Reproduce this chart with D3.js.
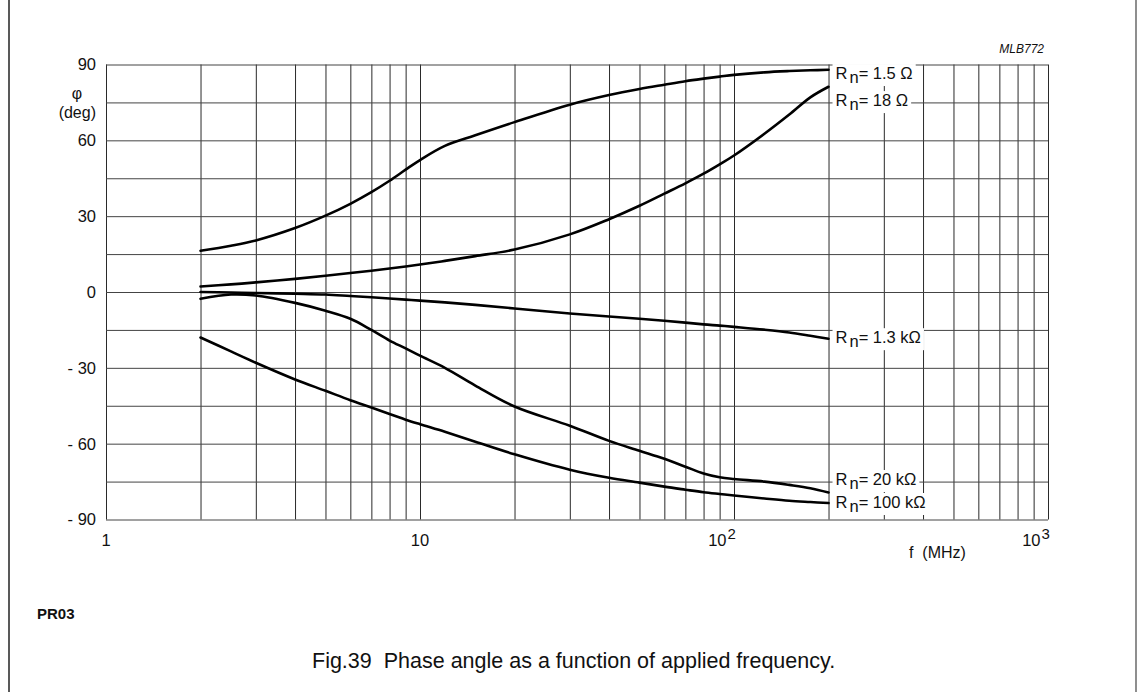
<!DOCTYPE html>
<html>
<head>
<meta charset="utf-8">
<script src="https://cdn.jsdelivr.net/npm/d3@7"></script>
<style>
  body { margin: 0; background: #fff; }
  text { font-family: "Liberation Sans", Arial, sans-serif; fill: #111; }
</style>
</head>
<body>
<script>
const width = 1138;
const height = 692;

// data
const freqs = [2, 2.5, 3, 4, 5, 6, 7, 8, 9, 10, 12, 15, 20, 30, 40, 50, 60, 70, 80, 90, 100, 125, 150, 175, 200];
const series = ['1.5 \u03A9', '18 \u03A9', '1.3 k\u03A9', '20 k\u03A9', '100 k\u03A9'];
const phase15 = [16.3, 18.3, 20.4, 25.3, 30.2, 34.9, 39.5, 44, 48.4, 52.2, 57.8, 62, 67.2, 74.1, 77.9, 80.3, 82, 83.4, 84.4, 85.2, 85.9, 86.9, 87.4, 87.7, 87.9];
const phase18 = [2.2, 3.0, 3.8, 5.2, 6.4, 7.5, 8.4, 9.3, 10.1, 10.9, 12.3, 14.2, 16.8, 22.8, 28.8, 34.1, 38.9, 43, 46.8, 50.5, 54, 62.6, 70.2, 77, 81.2];
const phase1k3 = [0, -0.2, -0.4, -0.7, -1, -1.6, -2.1, -2.6, -3, -3.4, -4.1, -5.1, -6.5, -8.5, -9.7, -10.6, -11.4, -12.1, -12.8, -13.3, -13.8, -14.9, -16, -17.3, -18.5];
const phase20k = [-2.7, -1.0, -1.4, -4.3, -7.4, -10.6, -15, -19.2, -22.3, -25.2, -30, -37, -45.3, -52.9, -58.9, -62.8, -66, -69.1, -71.8, -73.3, -74, -75, -76.3, -77.6, -79.3];
const phase100k = [-18, -23.5, -28, -34.6, -39.1, -42.8, -45.7, -48.3, -50.5, -52.3, -55.3, -59.2, -64.2, -70.3, -73.5, -75.4, -77, -78.2, -79.2, -79.9, -80.5, -81.7, -82.6, -83.1, -83.5];
const labelPhase = [86.6, 75.9, -17.9, -74, -83.1];

const yTicks = [90, 60, 30, 0, -30, -60, -90];
const yTickLabels = ['90', '60', '30', '0', '- 30', '- 60', '- 90'];
const yGrid = d3.range(-90, 91, 15);
const xGrid = [1, 2, 3, 4, 5, 6, 7, 8, 9, 10, 20, 30, 40, 50, 60, 70, 80, 90, 100, 200, 300, 400, 500, 600, 700, 800, 900, 1000];
const xTicks = [1, 10, 100, 1000];
const xTickBase = ['1', '10', '10', '10'];
const xTickExp = ['', '', '2', '3'];

const plot = { left: 106, right: 1048, top: 64.5, bottom: 519.5 };

const svg = d3.select('body')
  .append('svg')
    .attr('width', width)
    .attr('height', height);

const x = d3.scaleLog()
  .domain([1, 1000])
  .range([plot.left, plot.right]);

const y = d3.scaleLinear()
  .domain([-90, 90])
  .range([plot.bottom, plot.top]);

// page frame
svg.append('line')
  .attr('x1', 9).attr('x2', 9).attr('y1', 0).attr('y2', height)
  .attr('stroke', '#222').attr('stroke-width', 1.5);
svg.append('line')
  .attr('x1', 1136).attr('x2', 1136).attr('y1', 0).attr('y2', height)
  .attr('stroke', '#444').attr('stroke-width', 1.2);

// grid
const xAxis = d3.axisBottom(x)
  .tickValues(xGrid)
  .tickSizeInner(-(plot.bottom - plot.top))
  .tickSizeOuter(0)
  .tickFormat('');

const yAxis = d3.axisLeft(y)
  .tickValues(yGrid)
  .tickSizeInner(-(plot.right - plot.left))
  .tickSizeOuter(0)
  .tickFormat('');

const gx = svg.append('g')
  .attr('transform', `translate(0, ${plot.bottom})`)
  .call(xAxis);
const gy = svg.append('g')
  .attr('transform', `translate(${plot.left}, 0)`)
  .call(yAxis);

gx.select('.domain').remove();
gy.select('.domain').remove();
gx.selectAll('line').attr('stroke', '#2a2a2a').attr('stroke-width', 1);
gy.selectAll('line').attr('stroke', '#444').attr('stroke-width', 1);

// tick labels
svg.append('g')
  .selectAll('text')
  .data(yTicks)
  .enter()
    .append('text')
    .attr('x', 96)
    .attr('y', (d) => y(d))
    .attr('dy', '0.36em')
    .attr('text-anchor', 'end')
    .attr('font-size', 16.5)
    .attr('xml:space', 'preserve')
    .text((d, i) => yTickLabels[i]);

svg.append('text')
  .attr('x', 77).attr('y', 93).attr('dy', '0.36em')
  .attr('text-anchor', 'middle').attr('font-size', 16)
  .text('\u03C6');
svg.append('text')
  .attr('x', 96).attr('y', 112).attr('dy', '0.36em')
  .attr('text-anchor', 'end').attr('font-size', 16)
  .text('(deg)');

const xl = svg.append('g')
  .selectAll('text')
  .data(xTicks)
  .enter()
    .append('text')
    .attr('x', (d, i) => x(d) - (xTickExp[i] ? 12 : 0))
    .attr('y', 540)
    .attr('dy', '0.36em')
    .attr('text-anchor', 'middle')
    .attr('font-size', 16.5);
xl.append('tspan').text((d, i) => xTickBase[i]);
xl.append('tspan')
  .attr('dy', -7)
  .attr('dx', 1)
  .attr('font-size', 15)
  .text((d, i) => xTickExp[i]);

svg.append('text')
  .attr('x', 909).attr('y', 552).attr('dy', '0.36em')
  .attr('font-size', 16)
  .attr('xml:space', 'preserve')
  .text('f  (MHz)');

// curves
const all = [phase15, phase18, phase1k3, phase20k, phase100k];
const line = d3.line()
  .x((d, i) => x(freqs[i]))
  .y((d) => y(d))
  .curve(d3.curveCatmullRom.alpha(0.5));

svg.append('g')
  .selectAll('path')
  .data(all)
  .enter()
    .append('path')
    .attr('d', line)
    .attr('fill', 'none')
    .attr('stroke', '#000')
    .attr('stroke-width', 2.6)
    .attr('stroke-linecap', 'round');

// curve labels with white backing
const labels = svg.append('g')
  .selectAll('g')
  .data(series)
  .enter()
    .append('g');

const lt = labels.append('text')
  .attr('x', x(200) + 7)
  .attr('y', (d, i) => y(labelPhase[i]))
  .attr('dy', '0.36em')
  .attr('font-size', 16.5)
  .attr('xml:space', 'preserve');
lt.append('tspan').text('R');
lt.append('tspan').attr('dy', 4).attr('dx', 2).text('n');
lt.append('tspan').attr('dy', -4).text((d) => '= ' + d);

labels.each(function () {
  const g = d3.select(this);
  const b = g.select('text').node().getBBox();
  g.insert('rect', 'text')
    .attr('x', b.x - 3)
    .attr('y', b.y)
    .attr('width', b.width + 6)
    .attr('height', b.height)
    .attr('fill', '#fff');
});

// annotations
svg.append('text')
  .attr('x', 1044).attr('y', 49).attr('dy', '0.36em')
  .attr('text-anchor', 'end').attr('font-size', 12)
  .attr('font-style', 'italic')
  .text('MLB772');

svg.append('text')
  .attr('x', 37).attr('y', 614).attr('dy', '0.36em')
  .attr('font-size', 15).attr('font-weight', 'bold')
  .text('PR03');

svg.append('text')
  .attr('x', 312).attr('y', 660).attr('dy', '0.36em')
  .attr('font-size', 21.5)
  .attr('xml:space', 'preserve')
  .text('Fig.39  Phase angle as a function of applied frequency.');
</script>
</body>
</html>
